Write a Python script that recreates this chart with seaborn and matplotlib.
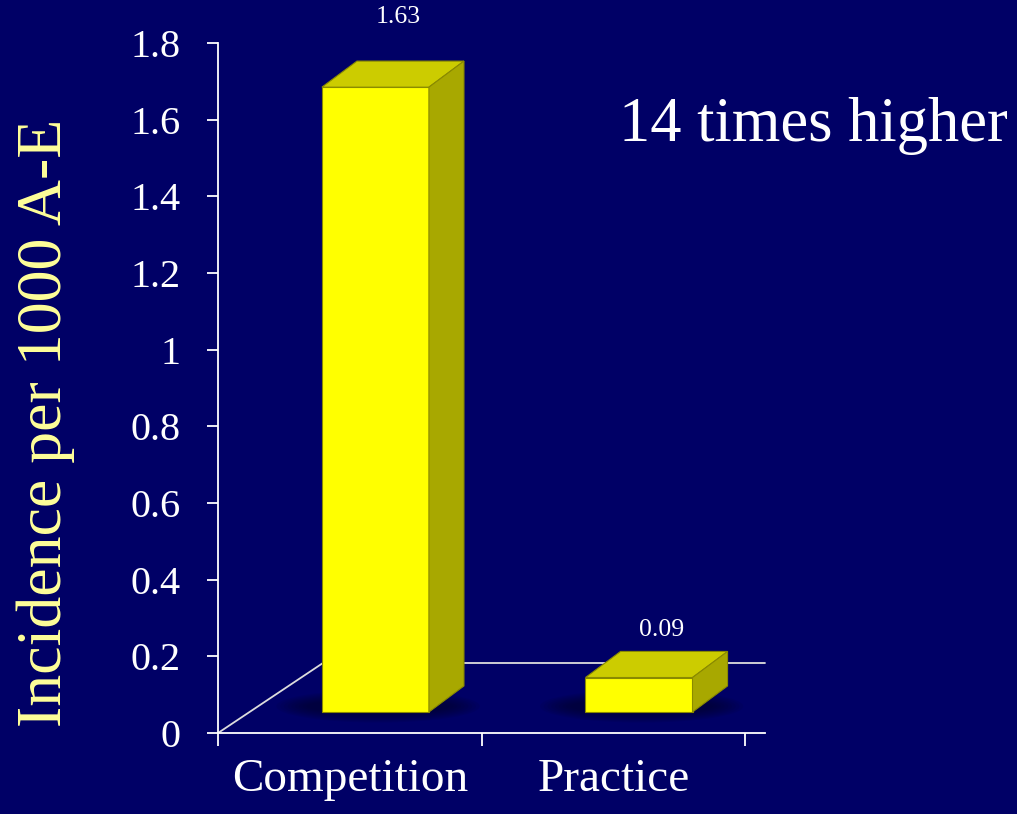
import numpy as np
import pandas as pd
import matplotlib
matplotlib.use("Agg")
import matplotlib.pyplot as plt
from matplotlib.patches import Polygon, Ellipse
from matplotlib.transforms import Affine2D
import seaborn as sns

# Data
categories = ["Competition", "Practice"]
incidence = [1.63, 0.09]
value_labels = ["1.63", "0.09"]
y_ticks = [0, 0.2, 0.4, 0.6, 0.8, 1, 1.2, 1.4, 1.6, 1.8]
y_tick_labels = ["0", "0.2", "0.4", "0.6", "0.8", "1", "1.2", "1.4", "1.6", "1.8"]
y_label = "Incidence per 1000 A-E"
annotation = "14 times higher"

# gap between each bar top and its value label (data units)
label_gap = [0.085, 0.027]

BG = "#000066"
FRONT = "#FFFF00"
TOP = "#CCCC00"
SIDE = "#A8A800"
EDGE = "#8A8A00"

sns.set_theme(style="white")
plt.rcParams["font.family"] = ["Liberation Serif", "DejaVu Serif"]

fig = plt.figure(figsize=(10.17, 8.14), dpi=100, facecolor=BG)
ax = fig.add_axes([0.2144, 0.0995, 0.5378, 0.8477])
ax.set_facecolor(BG)

df = pd.DataFrame({"category": categories, "value": incidence})

bar_w = 0.406
sns.barplot(data=df, x="category", y="value", width=bar_w, color=FRONT,
            saturation=1, edgecolor=EDGE, linewidth=0.8, ax=ax, zorder=5)

ax.set_xlim(-0.5, 1.575)
ax.set_ylim(0, 1.8)

# oblique projection: floor depth and bar depth in data units
floor_dx, floor_dy = 0.398, 0.1826
bar_pos = 0.3                       # bars stand 30% into the floor depth
ox, oy = 0.097, floor_dy * bar_pos
depth_dx, depth_dy = 0.133, 0.068

proj = Affine2D().translate(ox, oy) + ax.transData

# floor outline
x_left, x_right = ax.get_xlim()
ax.plot([x_left, x_left + floor_dx], [0, floor_dy], color="#DDDDDD",
        lw=1.3, clip_on=False, zorder=1)
ax.plot([x_left + floor_dx, x_right], [floor_dy, floor_dy], color="#DDDDDD",
        lw=1.3, clip_on=False, zorder=1)

for patch, val, lab, gap in zip(ax.patches, incidence, value_labels, label_gap):
    patch.set_transform(proj)
    x0 = patch.get_x()
    x1 = x0 + patch.get_width()
    # soft shadow on the floor
    cx = (x0 + x1) / 2 + 0.01
    for k in range(9):
        ax.add_patch(Ellipse((cx, 0.015), width=(x1 - x0) * (1.9 - 0.07 * k),
                             height=0.085 - 0.006 * k, facecolor="#000022",
                             edgecolor="none", alpha=0.08,
                             transform=proj, zorder=2))
    top = Polygon([(x0, val), (x1, val), (x1 + depth_dx, val + depth_dy),
                   (x0 + depth_dx, val + depth_dy)], closed=True,
                  facecolor=TOP, edgecolor=EDGE, lw=0.8, transform=proj, zorder=6)
    side = Polygon([(x1, 0), (x1, val), (x1 + depth_dx, val + depth_dy),
                    (x1 + depth_dx, depth_dy)], closed=True,
                   facecolor=SIDE, edgecolor=EDGE, lw=0.8, transform=proj, zorder=6)
    ax.add_patch(top)
    ax.add_patch(side)
    ax.text((x0 + x1) / 2 + depth_dx * 0.65, val + depth_dy + gap, lab,
            transform=proj, ha="center", va="bottom", color="white",
            fontsize=18.5, zorder=7, clip_on=False)

# axes styling
for s in ["top", "right"]:
    ax.spines[s].set_visible(False)
for s in ["left", "bottom"]:
    ax.spines[s].set_color("white")
    ax.spines[s].set_linewidth(1.3)

ax.set_yticks(y_ticks, y_tick_labels)
ax.tick_params(axis="y", colors="white", labelsize=29, length=8, width=1.3,
               direction="out", pad=19, left=True)
ax.set_xticks([0, 1], categories)
ax.tick_params(axis="x", which="major", colors="white", labelsize=34, length=0,
               pad=18, bottom=False)
ax.set_xticks([-0.5, 0.5, 1.5], minor=True)
ax.tick_params(axis="x", which="minor", colors="white", length=9, width=1.3,
               direction="out", bottom=True)
ax.set_xlabel("")
ax.set_ylabel(y_label, color="#FFFF99", fontsize=46)
ax.yaxis.set_label_coords(-0.262, 0.45)

fig.text(0.8, 0.845, annotation, color="white", fontsize=45,
         ha="center", va="center")

fig.savefig("out.png", dpi=100, facecolor=BG)
